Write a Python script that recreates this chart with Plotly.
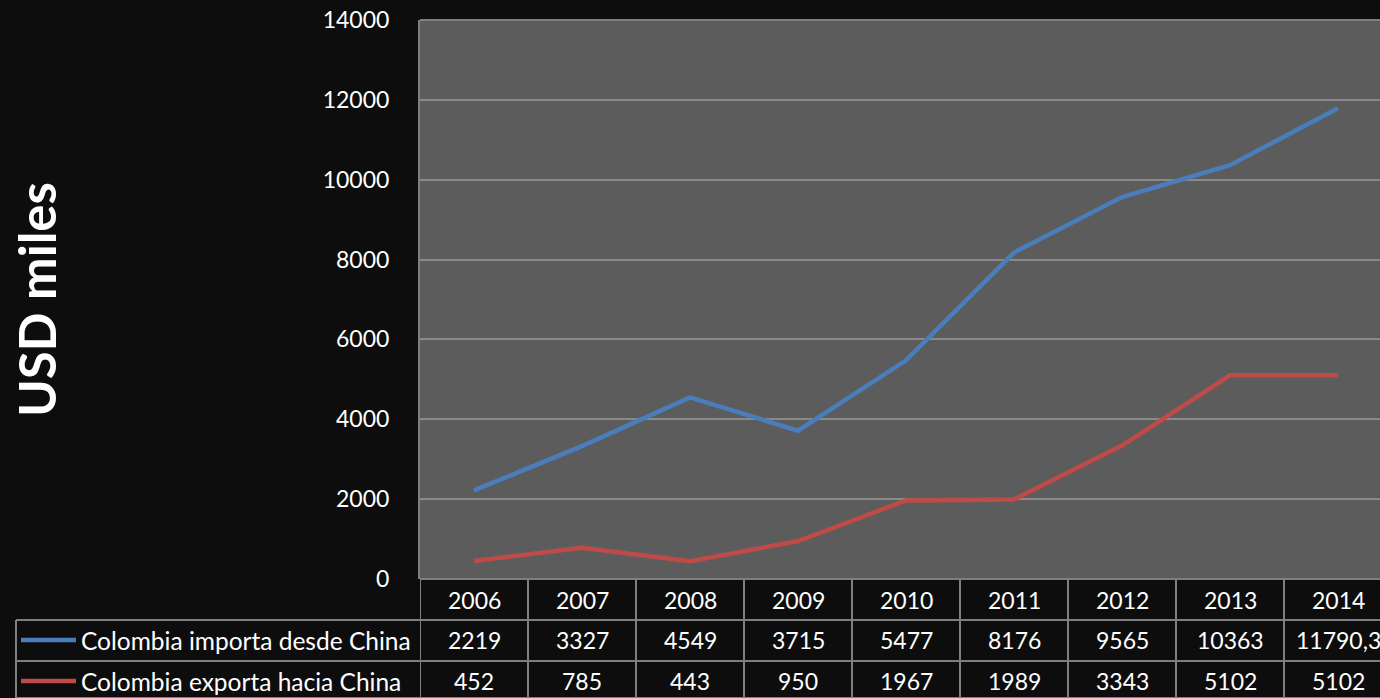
import plotly.graph_objects as go

years = ["2006", "2007", "2008", "2009", "2010", "2011", "2012", "2013", "2014"]
importa = [2219, 3327, 4549, 3715, 5477, 8176, 9565, 10363, 11790.3]
exporta = [452, 785, 443, 950, 1967, 1989, 3343, 5102, 5102]
importa_labels = ["2219", "3327", "4549", "3715", "5477", "8176", "9565", "10363", "11790,3"]
exporta_labels = ["452", "785", "443", "950", "1967", "1989", "3343", "5102", "5102"]
series_names = ["Colombia importa desde China", "Colombia exporta hacia China"]
y_ticks = [0, 2000, 4000, 6000, 8000, 10000, 12000, 14000]
y_tick_text = ["0", "2000", "4000", "6000", "8000", "10000", "12000", "14000"]

BG = "#0d0d0d"
PLOT_BG = "#5c5c5c"
GRID = "#8a8a8a"
BORDER = "#7f7f7f"
BLUE = "#4a7ebb"
RED = "#be4b48"
FONT = "Lato"

W, H = 1380, 698
L, T, B = 420, 20, 119
plot_h = H - T - B  # 559
plot_w = W - L      # 960
cat_w = 108.0

def py(p):
    return (H - B - p) / plot_h

def px(p):
    return (p - L) / plot_w

x_idx = list(range(len(years)))

fig = go.Figure()
fig.add_trace(go.Scatter(x=x_idx, y=importa, mode="lines", name=series_names[0],
                         line=dict(color=BLUE, width=4.5), showlegend=False))
fig.add_trace(go.Scatter(x=x_idx, y=exporta, mode="lines", name=series_names[1],
                         line=dict(color=RED, width=4.5), showlegend=False))

shapes = []
annotations = []

row_tops = [579, 620, 661, 698]
row_centers = [600, 640, 681]

for p in row_tops:
    shapes.append(dict(type="line", xref="paper", yref="paper",
                       x0=0, x1=1.02, y0=py(p), y1=py(p),
                       line=dict(color=BORDER, width=2)))
for p in row_tops[1:]:
    shapes.append(dict(type="line", xref="paper", yref="paper",
                       x0=px(16), x1=0, y0=py(p), y1=py(p),
                       line=dict(color=BORDER, width=2)))
shapes.append(dict(type="line", xref="paper", yref="paper",
                   x0=px(16), x1=px(16), y0=py(620), y1=py(698),
                   line=dict(color=BORDER, width=2)))
for i in range(len(years) + 1):
    shapes.append(dict(type="line", xref="x", yref="paper",
                       x0=i - 0.5, x1=i - 0.5, y0=py(579), y1=py(698),
                       line=dict(color=BORDER, width=2)))

for r, col in zip([1, 2], [BLUE, RED]):
    shapes.append(dict(type="line", xref="paper", yref="paper",
                       x0=px(21), x1=px(76), y0=py(row_centers[r]), y1=py(row_centers[r]),
                       line=dict(color=col, width=4.5)))
    annotations.append(dict(xref="paper", yref="paper", x=px(79), y=py(row_centers[r]),
                            text=series_names[r - 1], showarrow=False,
                            xanchor="left", yanchor="middle",
                            font=dict(family=FONT, size=24.5, color="white")))

for i in x_idx:
    for r, labels in enumerate([years, importa_labels, exporta_labels]):
        annotations.append(dict(xref="x", yref="paper", x=i, y=py(row_centers[r]),
                                text=labels[i], showarrow=False,
                                xanchor="center", yanchor="middle",
                                font=dict(family=FONT, size=23, color="white")))

annotations.append(dict(xref="paper", yref="paper", x=px(36), y=py(300),
                        text="<b>USD miles</b>", showarrow=False, textangle=-90,
                        xanchor="center", yanchor="middle",
                        font=dict(family=FONT, size=51, color="white")))

fig.update_layout(
    width=W, height=H,
    margin=dict(l=L, r=0, t=T, b=B),
    paper_bgcolor=BG, plot_bgcolor=PLOT_BG,
    xaxis=dict(range=[-0.5, -0.5 + plot_w / cat_w], showticklabels=False,
               showgrid=False, zeroline=False, showline=False, fixedrange=True),
    yaxis=dict(range=[0, 14000], tickvals=y_ticks, ticktext=y_tick_text,
               showgrid=True, gridcolor=GRID,
               gridwidth=1.5, zeroline=False, showline=True, linecolor=BORDER,
               linewidth=2, ticks="", ticklabelstandoff=24,
               tickfont=dict(family=FONT, size=23, color="white")),
    shapes=shapes + [dict(type="line", xref="paper", yref="paper", x0=0, x1=1,
                          y0=1, y1=1, line=dict(color=BORDER, width=2))],
    annotations=annotations,
    showlegend=False,
)

fig.write_html("out.html",
               config={"displayModeBar": False},
               post_script="document.body.style.margin='0';document.body.style.overflow='hidden';document.body.style.background='#0d0d0d';")
